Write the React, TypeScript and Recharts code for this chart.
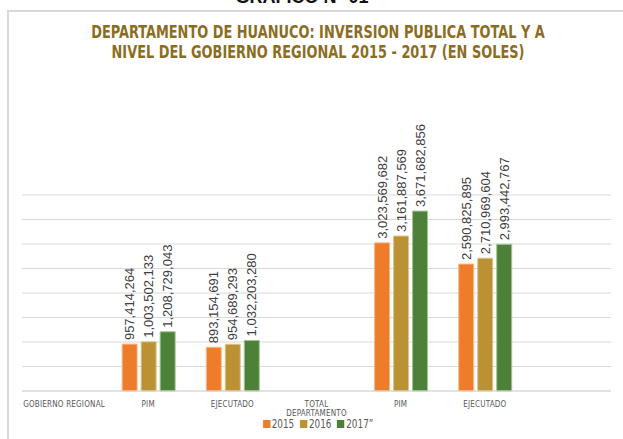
import React from "react";
import { BarChart, Bar, XAxis, YAxis, CartesianGrid, LabelList } from "recharts";

const categories = ["GOBIERNO REGIONAL", "PIM", "EJECUTADO", "TOTAL DEPARTAMENTO", "PIM", "EJECUTADO", ""];
const y2015 = [null, 957414264, 893154691, null, 3023569682, 2590825895, null];
const y2016 = [null, 1003502133, 954689293, null, 3161887569, 2710969604, null];
const y2017 = [null, 1208729043, 1032203280, null, 3671682856, 2993442767, null];
const yTicks = [0, 500000000, 1000000000, 1500000000, 2000000000, 2500000000, 3000000000, 3500000000, 4000000000];

const series = [
  { key: "v2015", name: "2015", color: "#EE7D2B", edge: "#F6B98C" },
  { key: "v2016", name: "2016", color: "#BA9233", edge: "#DCC58E" },
  { key: "v2017", name: "2017\u201d", color: "#4D8139", edge: "#A3C295" },
];

const data = categories.map((c, i) => ({
  idx: i,
  cat: c,
  v2015: y2015[i],
  v2016: y2016[i],
  v2017: y2017[i],
}));

const NARROW = '"DejaVu Sans Condensed", "Liberation Sans", Arial, sans-serif';
const SANS = '"Liberation Sans", Arial, sans-serif';

const fmt = (v: number) => v.toLocaleString("en-US");

function CatTick(props: any) {
  const { x, y, payload } = props;
  const label = categories[payload.value] || "";
  const lines = label === "TOTAL DEPARTAMENTO" ? ["TOTAL", "DEPARTAMENTO"] : [label];
  return (
    <text x={x} y={y} textAnchor="middle" fill="#595959" fontSize={8} fontFamily={NARROW} letterSpacing={0.2}>
      {lines.map((l, i) => (
        <tspan key={i} x={x} dy={i === 0 ? 8 : 9}>
          {l}
        </tspan>
      ))}
    </text>
  );
}

function ValueLabel(props: any) {
  const { x, y, width, value } = props;
  if (value == null) return null;
  const cx = Number(x) + Number(width) / 2;
  const ty = Number(y) - 4;
  return (
    <text
      transform={`translate(${cx}, ${ty}) rotate(-90)`}
      textAnchor="start"
      dominantBaseline="central"
      fontSize={13}
      fontFamily={SANS}
      fill="#404040"
    >
      {fmt(value)}
    </text>
  );
}

const NoTick = () => <g />;

export default function App() {
  return (
    <div style={{ position: "fixed", left: 0, top: 0, width: 623, height: 439, background: "#fff", overflow: "hidden" }}>
      <div
        style={{
          position: "absolute",
          left: 0,
          width: 604,
          top: -13,
          textAlign: "center",
          fontFamily: SANS,
          fontWeight: "bold",
          fontSize: 18,
          color: "#111",
        }}
      >
        GRAFICO N° 01
      </div>
      <div
        style={{
          position: "absolute",
          left: 7,
          top: 10,
          width: 700,
          height: 500,
          border: "2px solid #d9d9d9",
        }}
      />
      <div
        style={{
          position: "absolute",
          left: 0,
          width: 636,
          top: 22,
          textAlign: "center",
          fontFamily: NARROW,
          fontWeight: "bold",
          fontSize: 17,
          lineHeight: "20px",
          color: "#8C6D1F",
          transform: "scaleX(0.845)",
          transformOrigin: "318px 0",
        }}
      >
        DEPARTAMENTO DE HUANUCO: INVERSION PUBLICA TOTAL Y A
        <br />
        NIVEL DEL GOBIERNO REGIONAL 2015 - 2017 (EN SOLES)
      </div>
      <div style={{ position: "absolute", left: 0, top: 0 }}>
        <BarChart
          width={623}
          height={439}
          data={data}
          margin={{ top: 195, right: 12, bottom: 0, left: 22 }}
          barSize={15}
          barGap={4}
        >
          <CartesianGrid vertical={false} stroke="#d9d9d9" horizontalValues={yTicks} />
          <XAxis
            dataKey="idx"
            type="category"
            tick={<CatTick />}
            tickLine={false}
            axisLine={{ stroke: "#d9d9d9" }}
            interval={0}
            height={48}
          />
          <YAxis
            domain={[0, 4000000000]}
            ticks={yTicks}
            interval={0}
            width={0}
            tick={<NoTick />}
            axisLine={false}
            tickLine={false}
          />
          {series.map((s) => (
            <Bar key={s.key} dataKey={s.key} name={s.name} fill={s.color} stroke={s.edge} strokeWidth={1} isAnimationActive={false}>
              <LabelList dataKey={s.key} content={<ValueLabel />} />
            </Bar>
          ))}
        </BarChart>
      </div>
      <div
        style={{
          position: "absolute",
          left: 0,
          width: 636,
          top: 418,
          display: "flex",
          justifyContent: "center",
          gap: 7,
          fontFamily: NARROW,
          fontSize: 12,
          lineHeight: "12px",
          color: "#595959",
          transform: "scaleX(0.82)",
          transformOrigin: "318px 0",
        }}
      >
        {series.map((s) => (
          <span key={s.key} style={{ display: "flex", alignItems: "center" }}>
            <span style={{ display: "inline-block", width: 9, height: 8, background: s.color, marginRight: 2 }} />
            {s.name}
          </span>
        ))}
      </div>
    </div>
  );
}
